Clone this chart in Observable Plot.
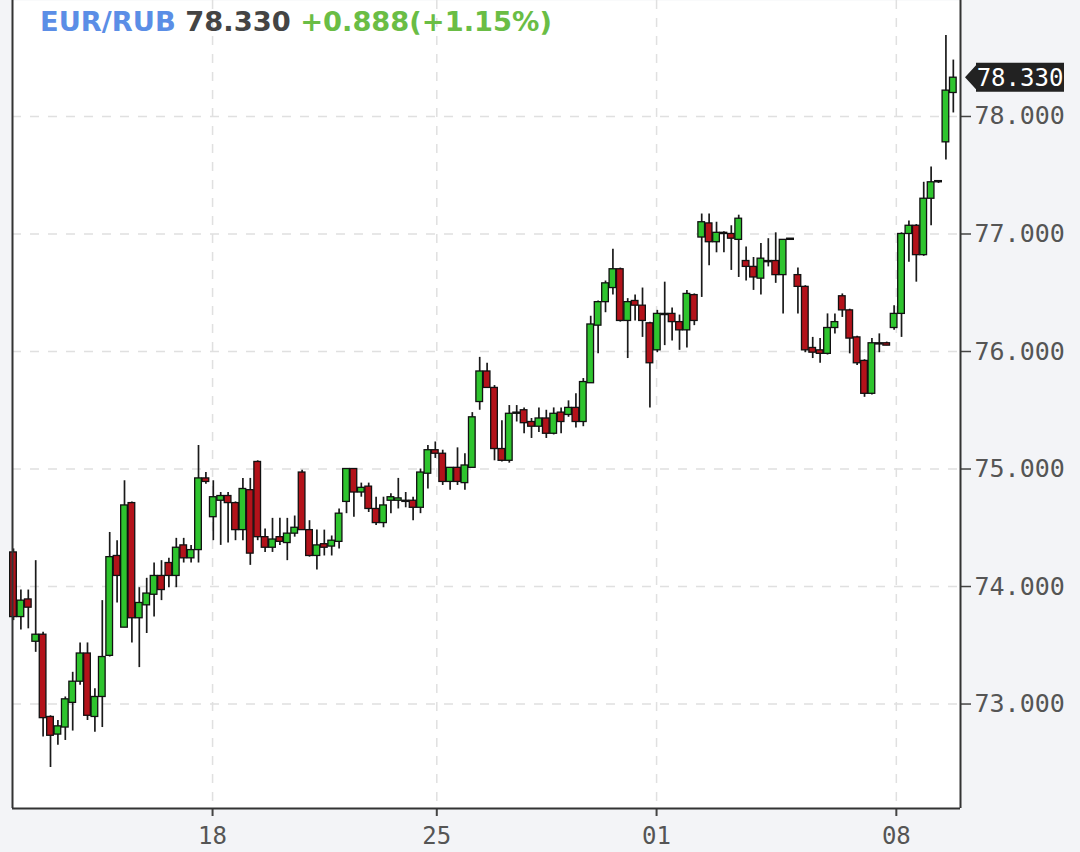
<!DOCTYPE html>
<html><head><meta charset="utf-8">
<script src="https://cdn.jsdelivr.net/npm/d3@7"></script>
<script src="https://cdn.jsdelivr.net/npm/@observablehq/plot@0.6"></script>
<style>
html,body{margin:0;padding:0;background:#f3f4f7;}
#chart svg{display:block;}
</style></head><body><div id="chart"></div>
<script>
// EUR/RUB candles (open, high, low, close)
const opens = [74.29,73.74,73.89,73.53,73.59,72.89,72.74,72.80,73.01,73.19,73.43,72.89,73.06,73.41,74.26,73.65,74.71,73.73,73.84,73.93,
74.09,74.20,74.09,74.35,74.24,74.31,74.92,74.59,74.73,74.77,74.71,74.48,74.82,75.06,74.42,74.33,74.42,74.37,74.45,74.97,
74.48,74.26,74.36,74.34,74.38,74.72,75.00,74.80,74.85,74.66,74.54,74.73,74.73,74.73,74.73,74.67,74.96,75.16,75.13,74.89,
75.01,74.88,75.01,75.57,75.83,75.69,75.17,75.07,75.47,75.50,75.40,75.36,75.43,75.30,75.48,75.46,75.52,75.40,75.73,76.22,
76.42,76.54,76.70,76.26,76.43,76.39,76.24,76.01,76.32,76.32,76.25,76.18,76.48,76.97,77.09,76.93,77.01,77.00,76.95,76.77,
76.72,76.62,76.77,76.77,76.65,76.95,76.65,76.55,76.03,76.01,75.98,76.20,76.47,76.35,76.12,75.92,75.64,76.07,76.07,76.20,
76.32,77.00,77.07,76.82,77.30,77.44,77.78,78.20];
const highs = [74.32,73.97,73.97,74.22,73.61,72.90,72.86,73.06,73.27,73.52,73.52,73.13,73.88,74.46,74.39,74.90,74.72,73.99,74.07,74.20,
74.22,74.24,74.41,74.41,74.35,75.20,74.97,74.90,74.80,74.80,74.72,74.92,74.92,75.07,74.49,74.58,74.58,74.58,74.60,74.99,
74.56,74.48,74.48,74.43,74.66,75.00,75.00,74.88,74.88,74.76,74.76,74.79,74.92,74.80,74.76,75.00,75.20,75.23,75.16,75.01,
75.18,75.13,75.48,75.95,75.90,75.71,75.41,75.54,75.54,75.52,75.43,75.52,75.50,75.52,75.52,75.58,75.64,75.77,76.30,76.43,
76.60,76.87,76.71,76.45,76.48,76.54,76.25,76.35,76.59,76.37,76.31,76.52,76.49,77.17,77.17,77.10,77.02,77.07,77.16,76.89,
76.80,76.92,76.96,77.01,76.95,76.96,76.71,76.56,76.12,76.11,76.32,76.32,76.49,76.36,76.13,75.93,76.11,76.15,76.08,76.39,
77.01,77.11,77.08,77.44,77.57,77.45,78.69,78.48];
const lows = [73.71,73.63,73.64,73.44,72.72,72.46,72.65,72.69,72.77,73.16,72.86,72.76,72.80,73.40,73.86,73.65,73.52,73.31,73.60,73.74,
73.88,73.99,73.99,74.20,74.20,74.20,74.87,74.39,74.35,74.37,74.39,74.39,74.18,74.39,74.29,74.29,74.35,74.22,74.42,74.48,
74.25,74.14,74.26,74.26,74.32,74.62,74.59,74.76,74.63,74.52,74.50,74.62,74.66,74.67,74.56,74.62,74.83,75.09,74.86,74.82,
74.86,74.82,75.01,75.50,75.69,75.07,75.06,75.05,75.40,75.30,75.26,75.31,75.26,75.29,75.30,75.44,75.35,75.36,75.73,75.98,
76.33,76.48,76.25,75.94,76.26,76.12,75.52,75.99,76.05,76.09,76.01,76.03,76.22,76.46,76.73,76.84,76.84,76.69,76.63,76.60,
76.52,76.48,76.72,76.58,76.32,76.95,76.32,75.99,75.94,75.90,75.97,76.15,76.29,75.98,75.88,75.61,75.63,75.99,76.05,76.18,
76.12,76.76,76.59,76.81,77.07,77.43,77.63,78.03];
const closes = [73.74,73.88,73.82,73.59,72.88,72.73,72.81,73.04,73.19,73.43,72.90,73.06,73.40,74.25,74.09,74.69,73.73,73.86,73.94,74.09,
73.97,74.09,74.33,74.24,74.31,74.92,74.89,74.76,74.77,74.71,74.48,74.83,74.28,74.42,74.33,74.40,74.38,74.45,74.50,74.48,
74.26,74.35,74.33,74.39,74.62,75.00,74.80,74.84,74.66,74.54,74.69,74.76,74.75,74.72,74.67,74.97,75.16,75.13,74.89,75.01,
74.89,75.03,75.44,75.83,75.69,75.17,75.07,75.47,75.48,75.39,75.36,75.43,75.30,75.47,75.40,75.52,75.40,75.74,76.23,76.42,
76.58,76.70,76.26,76.42,76.39,76.26,75.90,76.32,76.31,76.25,76.18,76.49,76.26,77.10,76.93,77.01,77.00,76.96,77.13,76.72,
76.63,76.79,76.76,76.65,76.95,76.96,76.55,76.01,75.99,75.98,76.20,76.25,76.35,76.11,75.90,75.64,76.07,76.06,76.05,76.32,
77.00,77.07,76.82,77.30,77.44,77.45,78.22,78.33];

const xTickPos = [26.9, 57.2, 86.9, 119.3];
const xTickLabels = ["18", "25", "01", "08"];
const yTicks = [73, 74, 75, 76, 77, 78];
const xDomain = [-0.135, 127.97];
const yDomain = [72.111, 78.987];
const pairName = "EUR/RUB";
const lastPrice = "78.330";
const changeText = "+0.888(+1.15%)";

const candles = opens.map((o, i) => ({i, o, h: highs[i], l: lows[i], c: closes[i]}));

const chart = Plot.plot({
  width: 1080, height: 852,
  marginLeft: 12, marginRight: 120, marginTop: 0, marginBottom: 44,
  style: {background: "#f3f4f7", fontFamily: "DejaVu Sans Mono", fontSize: "24px", color: "#555", overflow: "visible"},
  x: {domain: xDomain},
  y: {domain: yDomain},
  marks: [
    Plot.frame({fill: "white", stroke: null}),
    Plot.ruleY(yTicks, {stroke: "#e0e0e0", strokeWidth: 1.5, strokeDasharray: "9,9"}),
    Plot.ruleX(xTickPos, {stroke: "#e0e0e0", strokeWidth: 1.5, strokeDasharray: "9,9"}),
    Plot.ruleX(candles, {x: "i", y1: "l", y2: "h", stroke: "#1a1a1a", strokeWidth: 1.7}),
    Plot.rect(candles, {
      x1: d => d.i - 0.45, x2: d => d.i + 0.45,
      y1: d => Math.min(d.o, d.c), y2: d => Math.max(d.o, d.c),
      fill: d => d.c >= d.o ? "#2ec42e" : "#b3121a",
      stroke: "#111", strokeWidth: 1.3
    }),
    Plot.axisY(yTicks, {anchor: "right", tickFormat: d3.format(".3f"), tickSize: 10, tickPadding: 4, fontSize: 25, label: null, stroke: "#444", strokeWidth: 1.5}),
    Plot.axisX(xTickPos, {anchor: "bottom", tickFormat: d => xTickLabels[xTickPos.indexOf(d)], tickSize: 8, tickPadding: 10, fontSize: 24, label: null, stroke: "#444", strokeWidth: 2}),
    Plot.ruleX([xDomain[0], xDomain[1]], {stroke: "#333", strokeWidth: 2}),
    Plot.ruleY([yDomain[0]], {stroke: "#333", strokeWidth: 2})
  ]
});
document.getElementById("chart").appendChild(chart);

// last-price marker and header, positioned with the chart's own scales
const svg = d3.select(chart);
const yPix = chart.scale("y").apply(closes[closes.length - 1]);
const xr = chart.scale("x").range[1];
const g = svg.append("g");
g.append("path")
  .attr("d", `M${xr + 5},${yPix} L${xr + 16},${yPix - 12} L${xr + 16},${yPix - 14.5} L${xr + 104},${yPix - 14.5} L${xr + 104},${yPix + 14.5} L${xr + 16},${yPix + 14.5} L${xr + 16},${yPix + 12} Z`)
  .attr("fill", "#222");
g.append("text")
  .attr("x", xr + 60).attr("y", yPix).attr("dy", "0.36em")
  .attr("text-anchor", "middle")
  .attr("fill", "#fff")
  .style("font-family", "DejaVu Sans Mono").style("font-size", "24px")
  .text(lastPrice);

const head = svg.append("text")
  .attr("x", 40).attr("y", 31)
  .attr("text-anchor", "start")
  .style("font-family", "DejaVu Sans").style("font-weight", "bold").style("font-size", "27.3px");
head.append("tspan").attr("fill", "#5b8ee6").text(pairName + " ");
head.append("tspan").attr("fill", "#444").text(lastPrice + " ");
head.append("tspan").attr("fill", "#6abd45").text(changeText);
</script>
</body></html>
